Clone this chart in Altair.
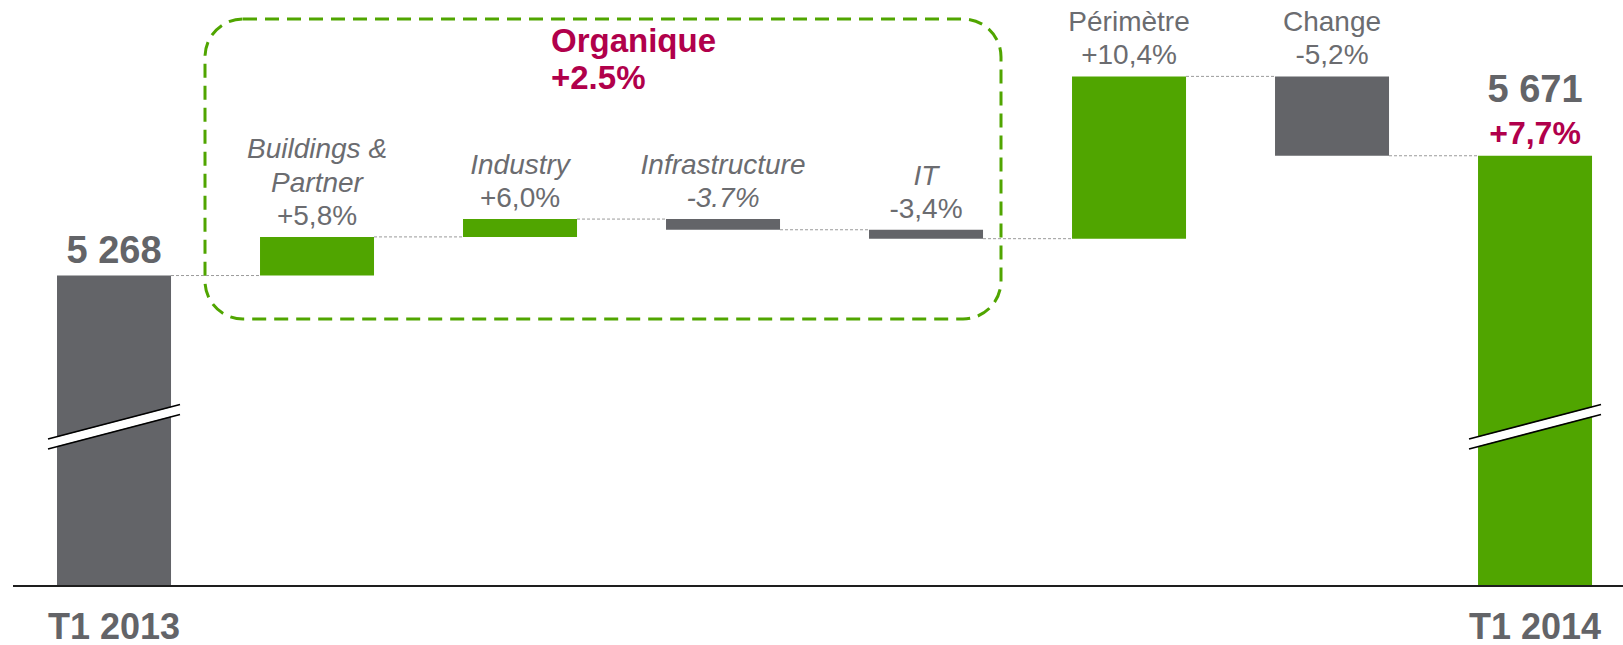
import altair as alt
import pandas as pd

# ---------------- data ----------------
categories = ["T1 2013", "Buildings & Partner", "Industry", "Infrastructure",
              "IT", "Périmètre", "Change", "T1 2014"]
start_total = 5268
end_total = 5671
step_deltas = [130, 60, -36, -30, 546, -267]
step_pct_labels = ["+5,8%", "+6,0%", "-3.7%", "-3,4%", "+10,4%", "-5,2%"]
step_name_lines = [["Buildings &", "Partner"], ["Industry"], ["Infrastructure"],
                   ["IT"], ["Périmètre"], ["Change"]]
step_name_italic = [True, True, True, True, False, False]
step_pct_italic = [False, False, True, False, False, False]
total_labels = ["5 268", "5 671"]
end_growth_label = "+7,7%"
organic_lines = ["Organique", "+2.5%"]
axis_labels_shown = ["T1 2013", "T1 2014"]
break_categories = ["T1 2013", "T1 2014"]

# truncated (broken) value axis
y_floor = 4223.5
y_ceiling = 6195

# ---------------- styles ----------------
GREEN = "#50A500"
GREY = "#636468"
TEXT_GREY = "#6B6C70"
CRIMSON = "#B1004B"
FONT = "Liberation Sans"
W, H = 1623, 586

# ---------------- tables ----------------
rows = [dict(cat=categories[0], start=y_floor, end=start_total, top=start_total,
             kind="total_start")]
level = start_total
for i, d in enumerate(step_deltas):
    s, e = level, level + d
    rows.append(dict(cat=categories[i + 1], start=s, end=e, top=max(s, e),
                     kind="up" if d > 0 else "down",
                     pct=step_pct_labels[i], pct_italic=step_pct_italic[i]))
    level = e
rows.append(dict(cat=categories[-1], start=y_floor, end=end_total, top=end_total,
                 kind="total_end"))
bars = pd.DataFrame(rows)
steps = bars[bars["kind"].isin(["up", "down"])].copy()

# one row per line of a category name, counted from the line nearest the bar
name_rows = []
for i, lines in enumerate(step_name_lines):
    for k, line in enumerate(reversed(lines)):
        name_rows.append(dict(cat=categories[i + 1], top=rows[i + 1]["top"], text=line,
                              from_bottom=k, italic=step_name_italic[i]))
names = pd.DataFrame(name_rows)

conn = pd.DataFrame([dict(cat=categories[i], nxt=categories[i + 1], level=rows[i]["end"])
                     for i in range(len(categories) - 1)])

totals = pd.DataFrame(dict(cat=[categories[0], categories[-1]],
                           value=[start_total, end_total],
                           label=total_labels))
growth = pd.DataFrame(dict(cat=[categories[-1]], value=[end_total], label=[end_growth_label]))
breaks = pd.DataFrame(dict(cat=break_categories))
organic = pd.DataFrame(dict(lines=[organic_lines]))

xscale = alt.Scale(domain=categories, paddingInner=0.4384, paddingOuter=0.2167, align=0.648)
yscale = alt.Scale(domain=[y_floor, y_ceiling], zero=False, nice=False)

label_expr = "indexof(" + str(axis_labels_shown) + ", datum.value) >= 0 ? datum.value : ''"
x_axis = alt.Axis(title=None, domain=False, ticks=False, grid=False, labelAngle=0,
                  labelExpr=label_expr, labelFont=FONT, labelFontSize=36,
                  labelFontWeight="bold", labelColor=GREY, labelPadding=24,
                  labelOverlap=False, labelBound=False)


def X(field="cat:N", **kw):
    return alt.X(field, scale=xscale, axis=x_axis, **kw)


def Y(field):
    return alt.Y(field, scale=yscale, axis=None)


# dashed rounded box around the organic components
box = alt.Chart(organic).mark_rect(
    filled=False, stroke=GREEN, strokeWidth=3, strokeDash=[14, 8], cornerRadius=38
).encode(x=alt.value(205), x2=alt.value(1001), y=alt.value(19), y2=alt.value(319))

connectors = alt.Chart(conn).mark_rule(color="#9A9A9A", strokeWidth=1, strokeDash=[3, 2]).encode(
    x=X(bandPosition=1),
    x2=alt.X2("nxt", bandPosition=0),
    y=Y("level:Q"),
)

bar_layer = alt.Chart(bars).mark_bar().encode(
    x=X(),
    y=Y("start:Q"),
    y2="end:Q",
    color=alt.Color("kind:N", legend=None,
                    scale=alt.Scale(domain=["total_start", "up", "down", "total_end"],
                                    range=[GREY, GREEN, GREY, GREEN])),
)


def brk(color, width, dy):
    return alt.Chart(breaks).mark_rule(color=color, strokeWidth=width, xOffset=-9, x2Offset=9).encode(
        x=X(bandPosition=0),
        x2=alt.X2("cat", bandPosition=1),
        y=alt.value(444 + dy), y2=alt.value(409.5 + dy),
    )


break_layers = [brk("white", 9, 0), brk("black", 1.6, -5), brk("black", 1.6, 5)]

axis_line = alt.Chart(organic).mark_rule(color="#1E1E1E", strokeWidth=2).encode(
    x=alt.value(13), x2=alt.value(W), y=alt.value(H))


def pct_text(italic):
    return alt.Chart(steps).transform_filter(
        f"datum.pct_italic == {'true' if italic else 'false'}"
    ).mark_text(font=FONT, fontSize=28, color=TEXT_GREY,
                fontStyle="italic" if italic else "normal",
                baseline="alphabetic", dy=-12).encode(
        x=X(), y=Y("top:Q"), text="pct:N")


def name_text(italic, line):
    return alt.Chart(names).transform_filter(
        f"datum.italic == {'true' if italic else 'false'} && datum.from_bottom == {line}"
    ).mark_text(font=FONT, fontSize=28, color=TEXT_GREY,
                fontStyle="italic" if italic else "normal",
                baseline="alphabetic", dy=-45 - 34 * line).encode(
        x=X(), y=Y("top:Q"), text="text:N")


texts = [pct_text(True), pct_text(False),
         name_text(True, 0), name_text(True, 1), name_text(False, 0)]

total_base = alt.Chart(totals).encode(x=X(), y=Y("value:Q"), text="label:N")
total_text_start = total_base.transform_filter(f"datum.cat == '{categories[0]}'").mark_text(
    font=FONT, fontSize=38, fontWeight="bold", color=GREY, baseline="alphabetic", dy=-13)
total_text_end = total_base.transform_filter(f"datum.cat == '{categories[-1]}'").mark_text(
    font=FONT, fontSize=38, fontWeight="bold", color=GREY, baseline="alphabetic", dy=-54)

growth_text = alt.Chart(growth).mark_text(font=FONT, fontSize=32, fontWeight="bold", color=CRIMSON,
                                          baseline="alphabetic", dy=-12).encode(
    x=X(), y=Y("value:Q"), text="label:N")

organic_text = alt.Chart(organic).mark_text(font=FONT, fontSize=33, fontWeight="bold", color=CRIMSON,
                                            align="left", baseline="top", lineHeight=37).encode(
    x=alt.value(551), y=alt.value(26), text="lines:N")

chart = alt.layer(
    box, connectors, bar_layer, *break_layers, axis_line,
    *texts, total_text_start, total_text_end, growth_text, organic_text,
).properties(
    width=W, height=H,
    padding={"left": 0, "top": 0, "right": 0, "bottom": 59},
    autosize=alt.AutoSizeParams(type="none"),
).configure_view(strokeWidth=0)

chart.save("out.html", embed_options={"renderer": "svg", "actions": False})
